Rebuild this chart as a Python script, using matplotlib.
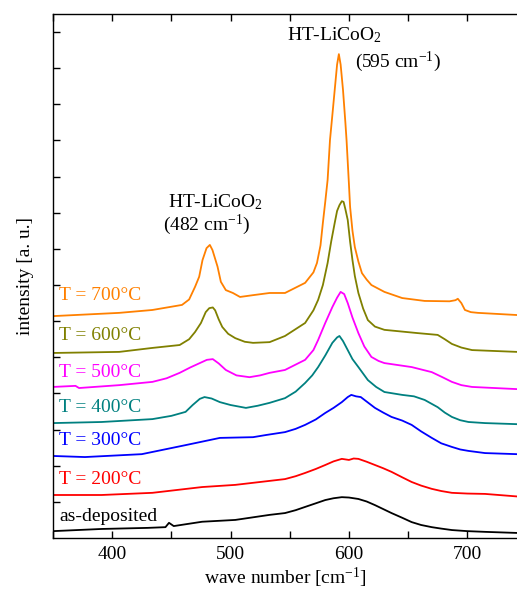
import matplotlib
matplotlib.use('Agg')
import matplotlib.pyplot as plt
from matplotlib.ticker import MultipleLocator, FixedLocator, NullFormatter

plt.rcParams['font.family'] = ['Liberation Serif', 'DejaVu Serif']
plt.rcParams['mathtext.fontset'] = 'custom'
plt.rcParams['mathtext.rm'] = 'Liberation Serif'
plt.rcParams['mathtext.it'] = 'Liberation Serif:italic'

# ---- data (wave number [cm^-1], intensity [a.u.], stacked) ----
wn_dep = [350, 391, 430, 445, 448, 452, 476, 504, 533, 546, 555, 563, 572, 580, 587, 594, 600, 608, 615, 622,
          629, 636, 645, 653, 661, 670, 678, 687, 700, 715, 742]
I_dep = [0.19, 0.25, 0.28, 0.30, 0.42, 0.33, 0.45, 0.50, 0.64, 0.69, 0.77, 0.86, 0.96, 1.05, 1.10, 1.13, 1.12,
         1.08, 1.01, 0.91, 0.80, 0.69, 0.56, 0.44, 0.36, 0.30, 0.26, 0.22, 0.19, 0.17, 0.14]

wn_200 = [350, 391, 434, 476, 504, 546, 555, 563, 572, 580, 587, 594, 600, 604, 608, 615, 622, 629, 636, 645,
          653, 661, 670, 678, 687, 700, 715, 742]
I_200 = [1.19, 1.19, 1.25, 1.41, 1.47, 1.63, 1.71, 1.80, 1.91, 2.02, 2.12, 2.19, 2.16, 2.20, 2.19, 2.11, 2.02,
         1.93, 1.83, 1.68, 1.55, 1.45, 1.36, 1.30, 1.25, 1.23, 1.22, 1.15]

wn_300 = [350, 377, 425, 462, 491, 519, 530, 546, 555, 563, 572, 580, 587, 594, 599, 602, 606, 610, 616, 622,
          629, 636, 645, 653, 661, 670, 678, 687, 694, 701, 715, 742]
I_300 = [2.27, 2.24, 2.32, 2.57, 2.77, 2.79, 2.85, 2.93, 3.02, 3.13, 3.28, 3.46, 3.60, 3.76, 3.90, 3.96, 3.92,
         3.90, 3.75, 3.60, 3.47, 3.35, 3.25, 3.13, 2.95, 2.77, 2.62, 2.52, 2.45, 2.41, 2.35, 2.32]

wn_400 = [350, 391, 434, 450, 462, 468, 474, 478, 484, 491, 500, 513, 523, 533, 546, 555, 563, 569, 574, 580,
          586, 590, 592, 595, 599, 603, 608, 612, 616, 623, 630, 645, 655, 664, 675, 681, 687, 694, 701, 715, 742]
I_400 = [3.18, 3.21, 3.29, 3.38, 3.49, 3.68, 3.85, 3.90, 3.86, 3.76, 3.68, 3.60, 3.66, 3.74, 3.87, 4.05, 4.29,
         4.50, 4.73, 5.05, 5.40, 5.55, 5.59, 5.45, 5.20, 4.95, 4.73, 4.55, 4.37, 4.18, 4.04, 3.96, 3.92, 3.82,
         3.62, 3.47, 3.35, 3.26, 3.21, 3.18, 3.15]

wn_500 = [350, 369, 372, 406, 434, 446, 457, 466, 474, 480, 485, 490, 496, 505, 516, 525, 533, 546, 563, 570,
          574, 580, 586, 590, 593, 596, 599, 603, 608, 613, 619, 625, 630, 653, 670, 679, 687, 695, 704, 742]
I_500 = [4.18, 4.21, 4.15, 4.23, 4.32, 4.42, 4.57, 4.72, 4.84, 4.93, 4.95, 4.83, 4.65, 4.50, 4.45, 4.50, 4.57,
         4.65, 4.93, 5.20, 5.48, 5.95, 6.39, 6.65, 6.81, 6.75, 6.50, 6.10, 5.67, 5.30, 5.01, 4.90, 4.84, 4.73,
         4.59, 4.45, 4.32, 4.23, 4.18, 4.12]

wn_600 = [350, 406, 434, 457, 465, 470, 475, 479, 482, 485, 487, 490, 493, 498, 504, 512, 519, 533, 546, 563,
          570, 574, 578, 582, 585, 588, 590, 592, 594, 595.5, 597, 599, 601, 603, 605, 608, 612, 616, 622, 630,
          658, 675, 681, 687, 695, 704, 742]
I_600 = [5.12, 5.15, 5.26, 5.34, 5.50, 5.70, 5.95, 6.25, 6.36, 6.38, 6.30, 6.05, 5.84, 5.65, 5.53, 5.43, 5.40,
         5.42, 5.59, 5.95, 6.30, 6.59, 7.00, 7.61, 8.20, 8.72, 9.05, 9.21, 9.32, 9.30, 9.10, 8.80, 8.20, 7.69,
         7.25, 6.78, 6.35, 6.03, 5.85, 5.76, 5.67, 5.62, 5.50, 5.37, 5.27, 5.20, 5.15]

wn_700 = [350, 406, 434, 459, 465, 470, 473.5, 476.3, 479.7, 482.5, 484.7, 489, 491.8, 496, 502, 508, 519, 533,
          546, 563, 570, 573, 576, 578, 580, 582, 584, 586, 588, 590, 591.5, 593, 595, 597, 598, 600, 601, 603,
          605, 608, 611, 615, 619, 630, 645, 664, 685, 690, 692, 695, 698, 703, 709, 742]
I_700 = [6.14, 6.23, 6.31, 6.45, 6.60, 6.95, 7.23, 7.69, 8.02, 8.11, 7.97, 7.51, 7.09, 6.86, 6.78, 6.67, 6.72,
         6.78, 6.78, 7.06, 7.35, 7.61, 8.10, 8.72, 9.30, 9.91, 11.01, 11.70, 12.40, 13.10, 13.39, 13.10, 12.40,
         11.50, 11.01, 9.80, 9.16, 8.50, 8.05, 7.65, 7.33, 7.15, 7.00, 6.81, 6.64, 6.56, 6.55, 6.58, 6.62, 6.50,
         6.31, 6.25, 6.23, 6.17]

series = [
    (wn_dep, I_dep, 'black', 'as-deposited', 0.48),
    (wn_200, I_200, '#ff0000', 'T = 200°C', 1.49),
    (wn_300, I_300, '#0000ff', 'T = 300°C', 2.57),
    (wn_400, I_400, '#008080', 'T = 400°C', 3.49),
    (wn_500, I_500, '#ff00ff', 'T = 500°C', 4.45),
    (wn_600, I_600, '#808000', 'T = 600°C', 5.48),
    (wn_700, I_700, '#ff8000', 'T = 700°C', 6.59),
]

fig = plt.figure(figsize=(5.17, 5.90), dpi=100)
ax = fig.add_axes([53/517, 52/590, 464/517, 524/590])

for wn, I, c, lab, ly in series:
    ax.plot(wn, I, color=c, lw=1.3)
    ax.text(355, ly, lab, color=c, fontsize=14, ha='left', va='baseline')

ax.text(547.5, 13.78, 'HT-LiCoO$_2$', fontsize=14, ha='left', va='baseline')
ax.text(605, 13.03, '(595 cm$^{-1}$)', fontsize=14, ha='left', va='baseline')
ax.text(447.5, 9.16, 'HT-LiCoO$_2$', fontsize=14, ha='left', va='baseline')
ax.text(443, 8.52, '(482 cm$^{-1}$)', fontsize=14, ha='left', va='baseline')

ax.set_xlim(350, 742)
ax.set_ylim(0, 14.5)
ax.xaxis.set_major_locator(MultipleLocator(100))
ax.xaxis.set_minor_locator(MultipleLocator(50))
ax.yaxis.set_major_locator(FixedLocator(list(range(1, 15))))
ax.yaxis.set_major_formatter(NullFormatter())
ax.tick_params(axis='x', which='both', direction='in', top=True, bottom=True,
               length=5, width=1, labelsize=14, pad=6)
ax.tick_params(axis='y', which='both', direction='in', left=True, right=False,
               length=5, width=1)
ax.spines['right'].set_visible(False)
for s in ['left', 'top', 'bottom']:
    ax.spines[s].set_linewidth(1.0)

ax.set_xlabel('wave number [cm$^{-1}$]', fontsize=14, labelpad=2)
ax.set_ylabel('intensity [a. u.]', fontsize=14, labelpad=10)

fig.savefig('out.png', dpi=100)
